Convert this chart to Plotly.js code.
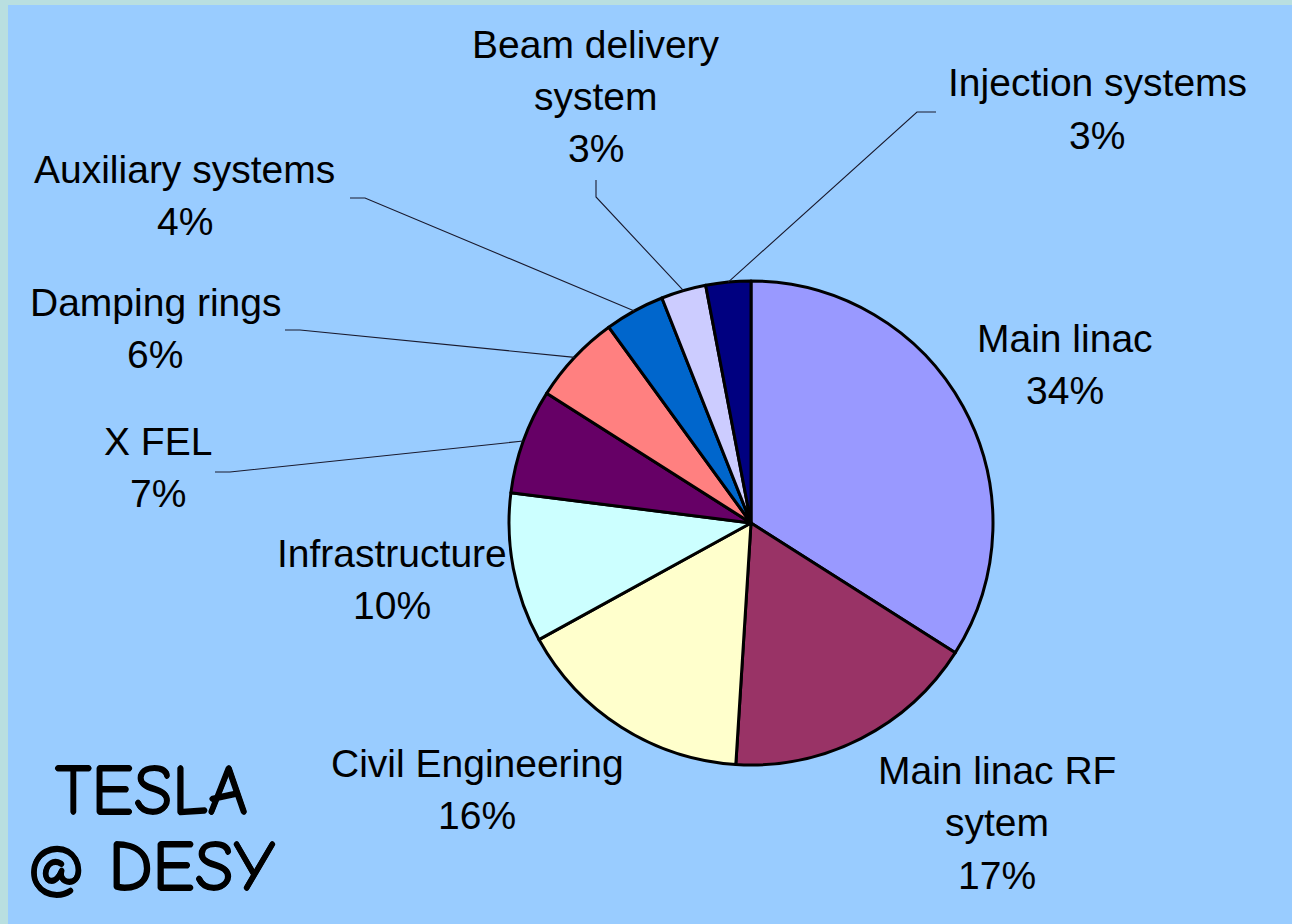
<!DOCTYPE html>
<html>
<head>
<meta charset="utf-8">
<script src="https://cdn.plot.ly/plotly-3.0.1.min.js"></script>
<style>html,body{margin:0;padding:0;background:#B9DFE0;}#chart{width:1292px;height:924px;}</style>
</head>
<body>
<div id="chart"></div>
<script>
// ---- data ----
const categories = ["Main linac", "Main linac RF sytem", "Civil Engineering", "Infrastructure", "X FEL", "Damping rings", "Auxiliary systems", "Beam delivery system", "Injection systems"];
const values = [34, 17, 16, 10, 7, 6, 4, 3, 3];
const labelLines = [["Main linac"], ["Main linac RF", "sytem"], ["Civil Engineering"], ["Infrastructure"], ["X FEL"], ["Damping rings"], ["Auxiliary systems"], ["Beam delivery", "system"], ["Injection systems"]];
const sliceColors = ["#9999FF", "#993366", "#FFFFCC", "#CCFFFF", "#660066", "#FF8080", "#0066CC", "#CCCCFF", "#000080"];
const watermarkLines = ["TESLA", "@ DESY"];

// ---- layout config (pixels) ----
const W = 1292, H = 924;
const cx = 751, cy = 523, R = 242;
// label block: x center, y of first line center
const labelPos = [
  [1065, 338], [997, 770], [477, 763], [392, 553], [158, 441],
  [155, 302], [185, 169], [596, 44], [1097, 83]
];
const lineGap = 52.5;
// leader-line elbows: [startX, startY, elbowX, elbowY] or null
const leaders = [null, null, null, null,
  [215, 472, 230, 472],
  [285, 330, 300, 330],
  [350, 198, 365, 198],
  [596, 180, 596, 197],
  [936, 112, 917, 112]
];

const px = x => x / W;
const py = y => 1 - y / H;

const total = values.reduce((a, b) => a + b, 0);

const trace = {
  type: 'pie',
  labels: categories,
  values: values,
  sort: false,
  direction: 'clockwise',
  rotation: 0,
  textinfo: 'none',
  hoverinfo: 'skip',
  marker: { colors: sliceColors, line: { color: '#000000', width: 3 } },
  domain: { x: [px(cx - R), px(cx + R)], y: [py(cy + R), py(cy - R)] },
  showlegend: false
};

const annotations = [];
const shapes = [
  { type: 'rect', xref: 'paper', yref: 'paper', x0: px(8), x1: 1, y0: 0, y1: py(5),
    fillcolor: '#99CCFF', line: { width: 0 }, layer: 'below' }
];

let cum = 0;
values.forEach((v, i) => {
  const lines = labelLines[i].concat([Math.round(v / total * 100) + '%']);
  const [lx, ly] = labelPos[i];
  lines.forEach((t, k) => {
    annotations.push({
      text: t, x: px(lx), y: py(ly + k * lineGap), xref: 'paper', yref: 'paper',
      xanchor: 'center', yanchor: 'middle', showarrow: false,
      font: { family: 'Liberation Sans, Arial, sans-serif', size: 39, color: '#000000' }
    });
  });
  const theta = (cum + v / 2) / total * 2 * Math.PI;
  cum += v;
  const ld = leaders[i];
  if (ld) {
    const ex = cx + R * Math.sin(theta), ey = cy - R * Math.cos(theta);
    shapes.push({
      type: 'path', xref: 'paper', yref: 'paper',
      path: `M ${px(ld[0])} ${py(ld[1])} L ${px(ld[2])} ${py(ld[3])} L ${px(ex)} ${py(ey)}`,
      line: { color: '#1a1a2e', width: 1.1 }
    });
  }
});

const wmY = [791, 867];
watermarkLines.forEach((t, k) => {
  annotations.push({
    text: t, x: px(151), y: py(wmY[k]), xref: 'paper', yref: 'paper',
    xanchor: 'center', yanchor: 'middle', showarrow: false,
    font: { family: 'Comic Sans MS, Comic Neue, DejaVu Sans, sans-serif', size: 70, weight: 'normal', color: '#000000',
            shadow: '0.8px 0 0 #000, -0.8px 0 0 #000, 0 0.8px 0 #000, 0 -0.8px 0 #000' }
  });
});

const layout = {
  width: W, height: H, autosize: false,
  margin: { l: 0, r: 0, t: 0, b: 0, pad: 0 },
  paper_bgcolor: '#B9DFE0',
  plot_bgcolor: 'rgba(0,0,0,0)',
  showlegend: false,
  annotations: annotations,
  shapes: shapes
};

Plotly.newPlot('chart', [trace], layout, { staticPlot: true, displayModeBar: false });
</script>
</body>
</html>
